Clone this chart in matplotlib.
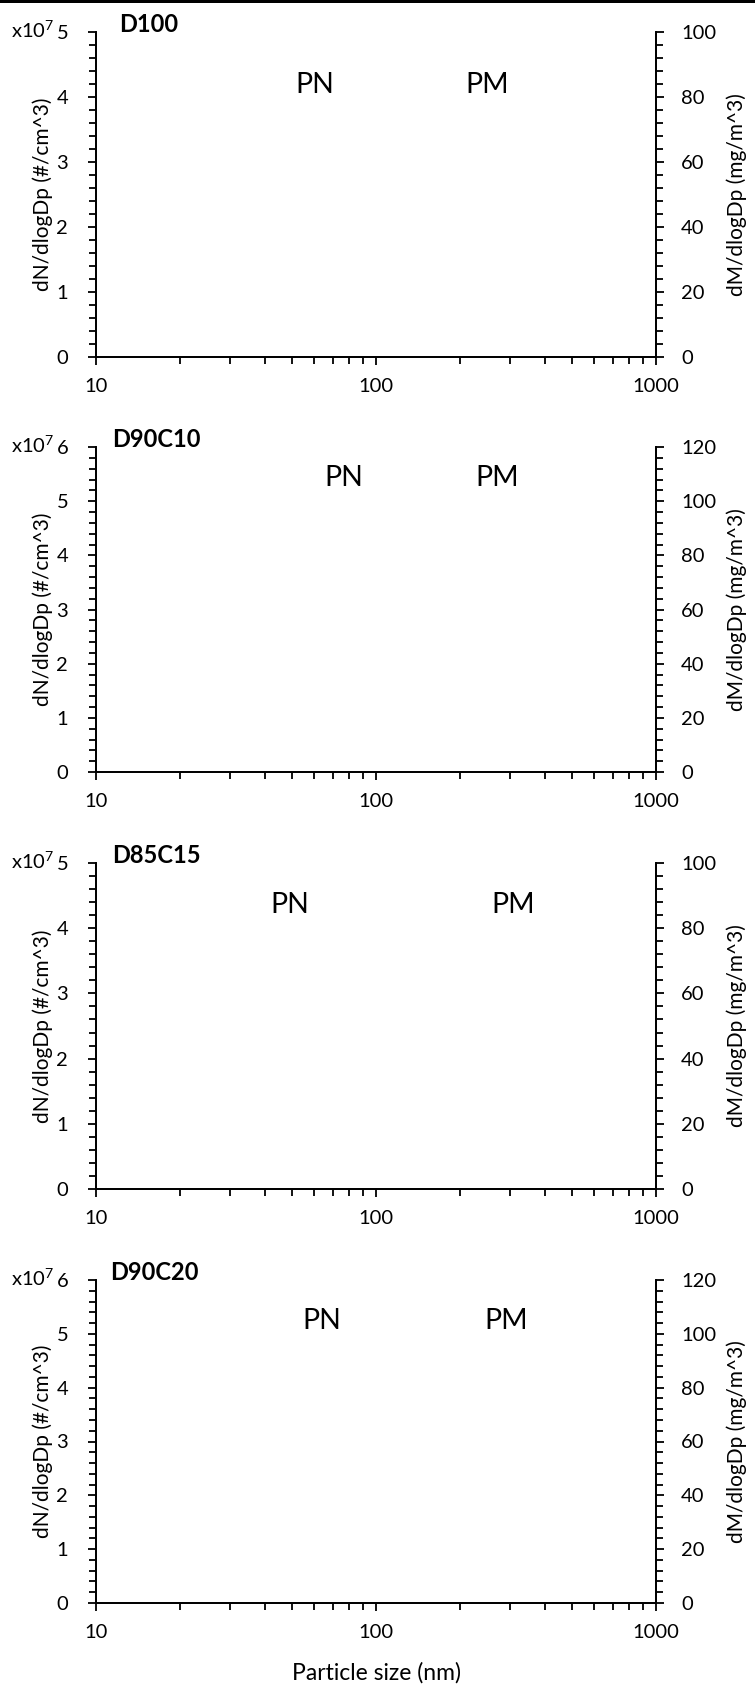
import matplotlib
matplotlib.use("Agg")
import matplotlib.pyplot as plt
from matplotlib.ticker import FixedLocator, FixedFormatter, MultipleLocator, NullFormatter
from matplotlib.patches import Rectangle

plt.rcParams['font.family'] = ['Lato', 'DejaVu Sans']
plt.rcParams['mathtext.fontset'] = 'custom'
plt.rcParams['mathtext.rm'] = 'Lato'
plt.rcParams['mathtext.it'] = 'Lato'
plt.rcParams['text.color'] = '#000000'

# ---- data ----
panel_names = ["D100", "D90C10", "D85C15", "D90C20"]
pn_ymax = [5, 6, 5, 6]            # x10^7 #/cm^3
pm_ymax = [100, 120, 100, 120]    # mg/m^3
x_ticks = [10, 100, 1000]
x_tick_labels = ["10", "100", "1000"]
pn_label_x = [60.6, 76.9, 49.3, 64.1]     # nm
pm_label_x = [249, 270, 308, 291]         # nm
label_y_frac = [0.837, 0.905, 0.87, 0.874]

W, H = 755, 1686
fig = plt.figure(figsize=(W / 100, H / 100), dpi=100)

# top border line
fig.add_artist(Rectangle((0, 1 - 3 / H), 1, 3 / H, transform=fig.transFigure,
                         facecolor='black', edgecolor='none'))

left_px, right_px = 96, 656
tops = [32, 447, 863, 1280]
bottoms = [357, 772, 1189, 1603]
title_x_px = [119, 112, 112, 110]

FS = 14.5
LFS = 15
LW = 1.3

for i, name in enumerate(panel_names):
    top, bot = tops[i], bottoms[i]
    rect = [left_px / W, 1 - bot / H, (right_px - left_px) / W, (bot - top) / H]
    ax = fig.add_axes(rect)
    ax.set_xscale('log')
    ax.set_xlim(10, 1000)
    ax.set_ylim(0, pn_ymax[i])
    ax.spines['top'].set_visible(False)
    for s in ['left', 'bottom', 'right']:
        ax.spines[s].set_linewidth(LW)
    ax.xaxis.set_major_locator(FixedLocator(x_ticks))
    ax.xaxis.set_major_formatter(FixedFormatter(x_tick_labels))
    ax.xaxis.set_minor_locator(FixedLocator([m * d for d in (10, 100) for m in range(2, 10)]))
    ax.xaxis.set_minor_formatter(NullFormatter())
    ax.yaxis.set_major_locator(MultipleLocator(1))
    ax.yaxis.set_minor_locator(MultipleLocator(0.2))
    ax.tick_params(axis='x', which='major', direction='out', length=6, width=LW, pad=9, labelsize=FS)
    ax.tick_params(axis='x', which='minor', direction='out', length=5, width=LW)
    ax.tick_params(axis='y', which='major', direction='out', length=6, width=LW, pad=14, labelsize=FS)
    ax.tick_params(axis='y', which='minor', direction='out', length=5, width=LW)
    ax.set_ylabel("dN/dlogDp (#/cm^3)", fontsize=LFS)
    ax.yaxis.set_label_coords(-0.096, 0.5)
    ax.yaxis.label.set_va('center')

    ax2 = ax.twinx()
    ax2.set_ylim(0, pm_ymax[i])
    ax2.spines['top'].set_visible(False)
    for s in ['left', 'bottom', 'right']:
        ax2.spines[s].set_linewidth(LW)
    ax2.yaxis.set_major_locator(MultipleLocator(20))
    ax2.yaxis.set_minor_locator(MultipleLocator(4))
    ax2.tick_params(axis='y', which='major', direction='out', length=6, width=LW, pad=12, labelsize=FS)
    ax2.tick_params(axis='y', which='minor', direction='out', length=5, width=LW)
    ax2.set_ylabel("dM/dlogDp (mg/m^3)", fontsize=LFS)
    ax2.yaxis.set_label_coords(1.145, 0.5)
    ax2.yaxis.label.set_va('center')

    ax.text((title_x_px[i] - left_px) / (right_px - left_px), 1.0, name,
            transform=ax.transAxes, ha='left', va='baseline',
            fontsize=17, fontweight='bold')
    ax.text(pn_label_x[i], label_y_frac[i], "PN", transform=ax.get_xaxis_transform(),
            ha='center', va='center', fontsize=20.5)
    ax.text(pm_label_x[i], label_y_frac[i], "PM", transform=ax.get_xaxis_transform(),
            ha='center', va='center', fontsize=20.5)

    fig.text(11 / W, 1 - (top + 6) / H, r"x10$^{\mathregular{7}}$",
             ha='left', va='baseline', fontsize=FS)

    if i == len(panel_names) - 1:
        ax.set_xlabel("Particle size (nm)", fontsize=16.5)
        ax.xaxis.set_label_coords(0.5, -0.215)
        ax.xaxis.label.set_va('center')

fig.savefig("out.png", dpi=100)
